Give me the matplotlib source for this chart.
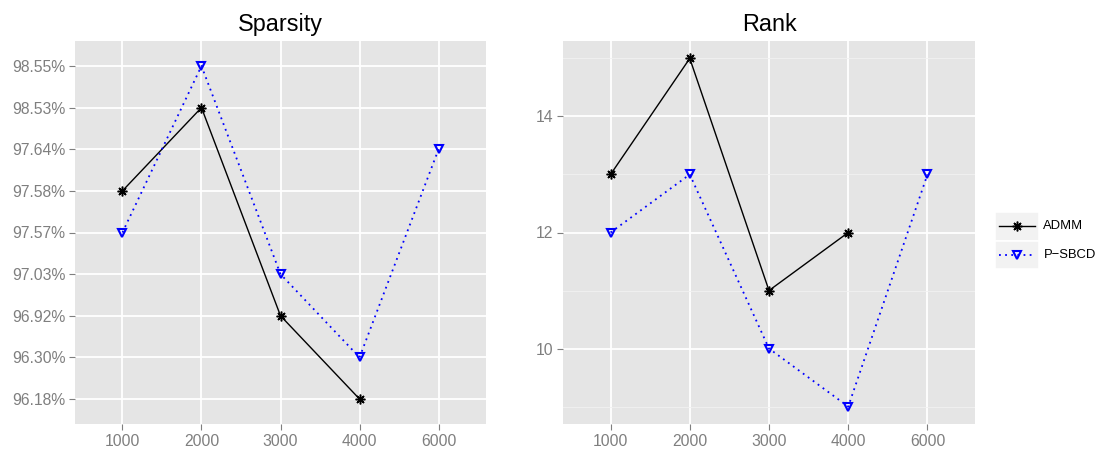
import matplotlib
matplotlib.use("Agg")
import matplotlib.pyplot as plt
from matplotlib.patches import Rectangle

plt.rcParams['font.family'] = ['Liberation Sans', 'DejaVu Sans']

sizes = ['1000', '2000', '3000', '4000', '6000']

# ADMM has no result for 6000
admm_sizes = ['1000', '2000', '3000', '4000']
admm_sparsity = [97.58, 98.53, 96.92, 96.18]
admm_rank = [13, 15, 11, 12]

psbcd_sizes = ['1000', '2000', '3000', '4000', '6000']
psbcd_sparsity = [97.57, 98.55, 97.03, 96.30, 97.64]
psbcd_rank = [12, 13, 10, 9, 13]

BG = '#E5E5E5'
TICK = '#7F7F7F'

fig = plt.figure(figsize=(10.97, 4.49), dpi=100)
ax1 = fig.add_axes([75 / 1097, 25 / 449, 411 / 1097, 383 / 449])
ax2 = fig.add_axes([563 / 1097, 25 / 449, 412 / 1097, 383 / 449])

xpos = {s: i + 1 for i, s in enumerate(sizes)}

# sparsity is treated as a discrete factor, ordered by value
levels = sorted(set(admm_sparsity + psbcd_sparsity))
ypos = {v: i + 1 for i, v in enumerate(levels)}

styles = dict(
    admm=dict(color='black', ls='-', lw=1.0, marker=(8, 2, 0), ms=7, mew=1.1),
    psbcd=dict(color='blue', ls=(0, (1, 2.4)), lw=1.3, marker='v', ms=5.5, mew=1.5,
               mfc='none', mec='blue'),
)

ax1.plot([xpos[s] for s in admm_sizes], [ypos[v] for v in admm_sparsity], **styles['admm'])
ax1.plot([xpos[s] for s in psbcd_sizes], [ypos[v] for v in psbcd_sparsity], **styles['psbcd'])
ax1.set_yticks(range(1, len(levels) + 1))
ax1.set_yticklabels(['%.2f%%' % v for v in levels])
ax1.set_ylim(0.4, len(levels) + 0.6)

ax2.plot([xpos[s] for s in admm_sizes], admm_rank, **styles['admm'])
ax2.plot([xpos[s] for s in psbcd_sizes], psbcd_rank, **styles['psbcd'])
ax2.set_ylim(8.7, 15.3)
ax2.set_yticks([10, 12, 14])
ax2.set_yticks([9, 11, 13, 15], minor=True)
ax2.grid(True, which='minor', axis='y', color='#F2F2F2', lw=0.6)

for ax, title in [(ax1, 'Sparsity'), (ax2, 'Rank')]:
    ax.set_facecolor(BG)
    ax.set_xticks(range(1, len(sizes) + 1))
    ax.set_xticklabels(sizes)
    ax.set_xlim(0.4, len(sizes) + 0.6)
    ax.grid(True, which='major', color='white', lw=1.3)
    ax.set_axisbelow(True)
    for sp in ax.spines.values():
        sp.set_visible(False)
    ax.tick_params(which='major', colors=TICK, labelsize=11.3, length=4, width=0.8, pad=3)
    ax.tick_params(which='minor', length=0)
    ax.set_title(title, fontsize=16.8, pad=7)

# legend keys drawn in a small axes of their own
lg = fig.add_axes([995 / 1097, 180 / 449, 44 / 1097, 57 / 449])
lg.set_xlim(0, 1)
lg.set_ylim(0, 2)
lg.axis('off')
for k, (name, key) in enumerate([('ADMM', 'admm'), ('P\u2212SBCD', 'psbcd')]):
    y0 = 1 - k
    lg.add_patch(Rectangle((0, y0), 1, 1, fc='#F2F2F2', ec='white', lw=1.2))
    st = dict(styles[key])
    lg.plot([0.1, 0.5, 0.9], [y0 + 0.5] * 3, markevery=[1], **st)
    lg.text(1.1, y0 + 0.5, name, fontsize=9.4, va='center', ha='left', clip_on=False)

fig.savefig('out.png', dpi=100, facecolor='white')
